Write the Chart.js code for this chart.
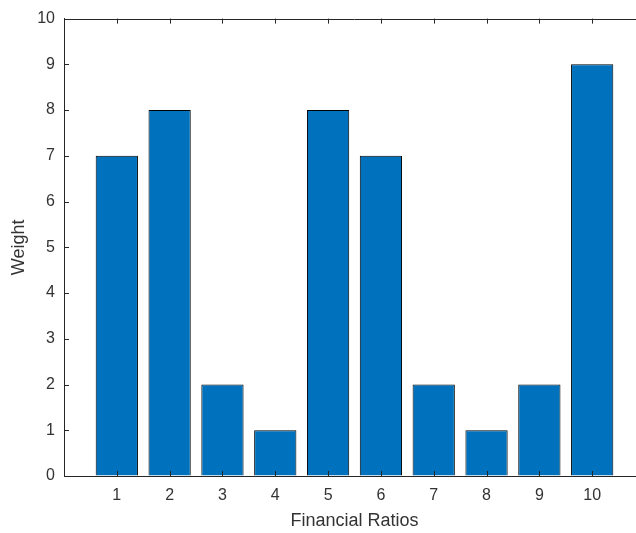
<!DOCTYPE html>
<html>
<head>
<meta charset="utf-8">
<script src="https://cdn.jsdelivr.net/npm/chart.js@4"></script>
<style>
  html, body { margin: 0; padding: 0; background: #fff; overflow: hidden; width: 636px; height: 533px; }
  #c { position: absolute; left: 0; top: 0; }
</style>
</head>
<body>
<canvas id="c" width="660" height="533"></canvas>
<script>
const categories = [1, 2, 3, 4, 5, 6, 7, 8, 9, 10];
const weights = [7, 8, 2, 1, 8, 7, 2, 1, 2, 9];
const yTickValues = [0, 1, 2, 3, 4, 5, 6, 7, 8, 9, 10];
const xLimits = [0, 11];
const xTitle = 'Financial Ratios';
const yTitle = 'Weight';

const axisColor = '#262626';
const textColor = '#333333';
const fontFamily = "'Liberation Sans', Arial, sans-serif";

const innerTicks = {
  id: 'innerTicks',
  afterDatasetsDraw(chart) {
    const ctx = chart.ctx, a = chart.chartArea;
    const xs = chart.scales.x, ys = chart.scales.y;
    const len = 5;
    ctx.save();
    ctx.strokeStyle = axisColor;
    ctx.lineWidth = 1;
    ctx.beginPath();
    yTickValues.forEach(v => {
      const py = Math.round(ys.getPixelForValue(v)) + 0.5;
      ctx.moveTo(a.left, py); ctx.lineTo(a.left + len, py);
    });
    categories.forEach(v => {
      const px = Math.round(xs.getPixelForValue(v)) + 0.5;
      ctx.moveTo(px, a.bottom); ctx.lineTo(px, a.bottom - len);
      ctx.moveTo(px, a.top); ctx.lineTo(px, a.top + len);
    });
    ctx.moveTo(a.left, Math.round(a.top) + 0.5); ctx.lineTo(a.right, Math.round(a.top) + 0.5);
    ctx.stroke();
    ctx.restore();
  }
};

new Chart(document.getElementById('c'), {
  type: 'bar',
  data: {
    datasets: [{
      data: categories.map((c, i) => ({ x: c, y: weights[i] })),
      backgroundColor: '#0072BD',
      borderColor: '#000000',
      borderWidth: 1,
      barPercentage: 0.8,
      categoryPercentage: 1.0
    }]
  },
  options: {
    responsive: false,
    animation: false,
    devicePixelRatio: 1,
    layout: { padding: { left: 0, right: 15, top: 17, bottom: 0 } },
    plugins: { legend: { display: false }, tooltip: { enabled: false } },
    scales: {
      x: {
        type: 'linear',
        offset: false,
        min: xLimits[0],
        max: xLimits[1],
        afterFit(s) { s.height = 57; },
        grid: { display: true, drawOnChartArea: false, drawTicks: false },
        border: { display: true, color: axisColor, width: 1 },
        ticks: {
          stepSize: 1,
          autoSkip: false,
          maxRotation: 0,
          padding: 10,
          color: textColor,
          font: { family: fontFamily, size: 16 },
          callback: (v) => categories.includes(v) ? String(v) : ''
        },
        title: {
          display: true,
          text: xTitle,
          color: textColor,
          font: { family: fontFamily, size: 18 },
          padding: { top: 0, bottom: 1 }
        }
      },
      y: {
        min: 0,
        max: 10,
        afterFit(s) { s.width = 64; },
        afterBuildTicks(s) { s.ticks = yTickValues.map(v => ({ value: v })); },
        grid: { display: true, drawOnChartArea: false, drawTicks: false },
        border: { display: true, color: axisColor, width: 1 },
        ticks: {
          padding: 9,
          color: textColor,
          font: { family: fontFamily, size: 16 }
        },
        title: {
          display: true,
          text: yTitle,
          color: textColor,
          font: { family: fontFamily, size: 18 },
          padding: { top: 8, bottom: 0 }
        }
      }
    }
  },
  plugins: [innerTicks]
});
</script>
</body>
</html>
